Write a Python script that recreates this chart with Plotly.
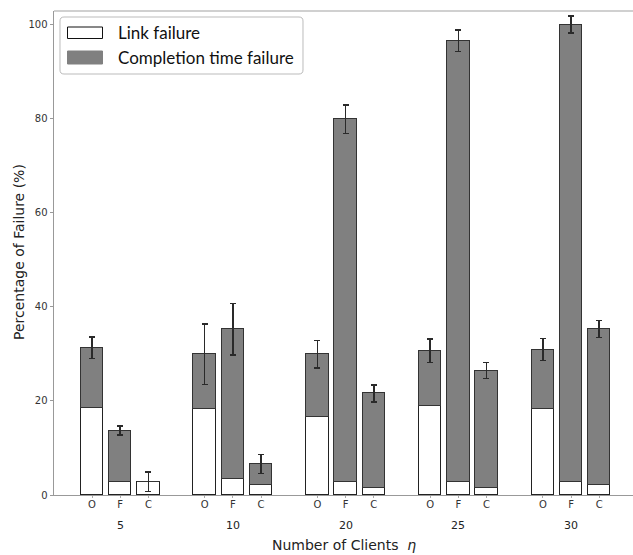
import plotly.graph_objects as go

# ---------------- data ----------------
groups = ["5", "10", "20", "25", "30"]
methods = ["O", "F", "C"]

link_failure = [
    [18.5, 2.8, 2.8],
    [18.2, 3.5, 2.2],
    [16.6, 2.8, 1.5],
    [19.0, 2.8, 1.5],
    [18.3, 2.7, 2.1],
]
completion_failure = [
    [12.8, 10.9, 0.0],
    [11.7, 31.7, 4.4],
    [13.3, 77.0, 20.1],
    [11.6, 93.7, 24.9],
    [12.6, 97.2, 33.2],
]
total_error = [
    [2.3, 1.0, 2.05],
    [6.4, 5.5, 2.0],
    [2.9, 3.0, 1.8],
    [2.5, 2.3, 1.7],
    [2.3, 1.8, 1.8],
]
y_ticks = [0, 20, 40, 60, 80, 100]

# ---------------- layout geometry ----------------
W, H = 633, 555
ML, MR, MT, MB = 54, 0, 11, 60
PW, PH = W - ML - MR, H - MT - MB


def px(x):
    return (x - ML) / PW


def py(y):
    return (MT + PH - y) / PH


positions, link_vals, comp_vals, errs, labels = [], [], [], [], []
for g in range(len(groups)):
    for s in range(len(methods)):
        positions.append(4 * g + s)
        link_vals.append(link_failure[g][s])
        comp_vals.append(completion_failure[g][s])
        errs.append(total_error[g][s])
        labels.append(methods[s])

fig = go.Figure()
fig.add_trace(go.Bar(
    x=positions, y=link_vals, width=0.8, name="Link failure",
    marker=dict(color="white", line=dict(color="#222222", width=1)),
    showlegend=False,
))
fig.add_trace(go.Bar(
    x=positions, y=comp_vals, width=0.8, name="Completion time failure",
    marker=dict(color="#808080", line=dict(color="#333333", width=1)),
    error_y=dict(type="data", array=errs, visible=True, color="#2a2a2a",
                 thickness=1.5, width=3),
    showlegend=False,
))

tick_font = dict(family="DejaVu Sans", size=10, color="#333333")

fig.update_layout(
    width=W, height=H,
    margin=dict(l=ML, r=MR, t=MT, b=MB),
    paper_bgcolor="white", plot_bgcolor="white",
    barmode="stack", bargap=0,
    xaxis=dict(
        range=[-1.35, 19.2], tickvals=positions, ticktext=labels,
        tickfont=tick_font, ticks="outside", ticklen=2, tickcolor="#aaaaaa",
        ticklabelstandoff=-2,
        showline=True, linecolor="#999999", linewidth=1,
        showgrid=False, zeroline=False, fixedrange=True,
    ),
    yaxis=dict(
        range=[0, 102.8], tickvals=y_ticks,
        ticktext=[str(v) for v in y_ticks],
        tickfont=tick_font, ticks="outside", ticklen=3.5, tickcolor="#999999",
        showline=True, linecolor="#999999", linewidth=1,
        showgrid=False, zeroline=False, fixedrange=True,
    ),
)

# top spine
fig.add_shape(type="line", xref="paper", yref="paper", x0=0, x1=1, y0=1, y1=1,
              line=dict(color="#c0c0c0", width=1.3))

annotations = []
for g, name in enumerate(groups):
    annotations.append(dict(
        x=4 * g + 1, xref="x", y=py(525.5), yref="paper", text=name,
        showarrow=False, xanchor="center", yanchor="middle",
        font=dict(family="DejaVu Sans", size=11, color="#222222"),
    ))
annotations.append(dict(
    x=0.5, xref="paper", y=py(545), yref="paper",
    text="Number of Clients  <i>η</i>", showarrow=False,
    xanchor="center", yanchor="middle",
    font=dict(family="DejaVu Sans", size=14, color="#222222"),
))
annotations.append(dict(
    x=px(19), xref="paper", y=py(252), yref="paper",
    text="Percentage of Failure (%)", showarrow=False, textangle=-90,
    xanchor="center", yanchor="middle",
    font=dict(family="DejaVu Sans", size=14, color="#222222"),
))

# manual legend
x0, y0, x1, y1, r = 60, 17, 303, 74, 4


def P(x, y):
    return f"{px(x):.5f},{py(y):.5f}"


path = (f"M{P(x0 + r, y0)} L{P(x1 - r, y0)} Q{P(x1, y0)} {P(x1, y0 + r)} "
        f"L{P(x1, y1 - r)} Q{P(x1, y1)} {P(x1 - r, y1)} "
        f"L{P(x0 + r, y1)} Q{P(x0, y1)} {P(x0, y1 - r)} "
        f"L{P(x0, y0 + r)} Q{P(x0, y0)} {P(x0 + r, y0)} Z")
fig.add_shape(type="path", xref="paper", yref="paper", path=path,
              fillcolor="rgba(255,255,255,0.85)",
              line=dict(color="#bbbbbb", width=1))
fig.add_shape(type="rect", xref="paper", yref="paper",
              x0=px(67.5), x1=px(102.5), y0=py(27), y1=py(38.5),
              fillcolor="white", line=dict(color="#111111", width=1))
fig.add_shape(type="rect", xref="paper", yref="paper",
              x0=px(67.5), x1=px(102.5), y0=py(51), y1=py(64),
              fillcolor="#808080", line=dict(color="#808080", width=1))
for text, yc in [("Link failure", 33), ("Completion time failure", 58)]:
    annotations.append(dict(
        x=px(116), xref="paper", y=py(yc), yref="paper", text=text,
        showarrow=False, xanchor="left", yanchor="middle",
        font=dict(family="Lato", size=17, color="#111111"),
    ))

fig.update_layout(annotations=annotations)
fig.write_html(
    "out.html",
    config={"displayModeBar": False},
    post_script="document.body.style.margin='0';"
                "document.body.style.overflow='hidden';"
                "document.documentElement.style.overflow='hidden';",
)
